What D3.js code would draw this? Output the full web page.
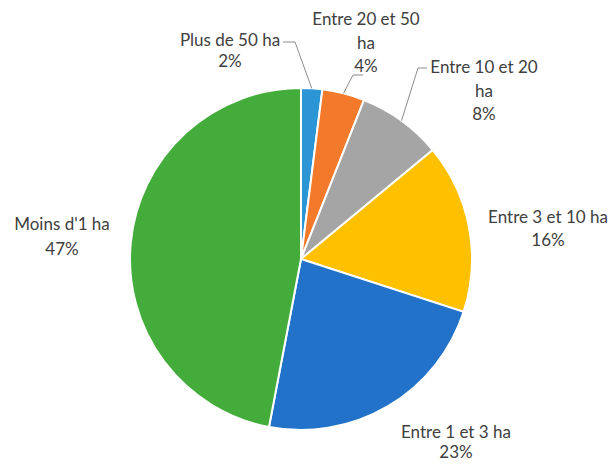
<!DOCTYPE html>
<html>
<head>
<meta charset="utf-8">
<script src="https://cdn.jsdelivr.net/npm/d3@7"></script>
<style>
  body { margin: 0; background: #fff; }
  text { font-family: Lato, "Open Sans", sans-serif; font-size: 17px; fill: #404040; }
</style>
</head>
<body>
<div id="chart"></div>
<script>
// Data
const categories = ["Plus de 50 ha", "Entre 20 et 50 ha", "Entre 10 et 20 ha", "Entre 3 et 10 ha", "Entre 1 et 3 ha", "Moins d'1 ha"];
const values = [2, 4, 8, 16, 23, 47];
const labelLines = [
  ["Plus de 50 ha"],
  ["Entre 20 et 50", "ha"],
  ["Entre 10 et 20", "ha"],
  ["Entre 3 et 10 ha"],
  ["Entre 1 et 3 ha"],
  ["Moins d'1 ha"]
];
const colors = ["#2B95D6", "#F47A2B", "#A5A5A5", "#FFC000", "#2172C8", "#43AC3B"];

const width = 615;
const height = 464;
const cx = 301, cy = 259, radius = 171;

// label layout: centre x, first line baseline y, line step, leader (from label side)
const labelPos = [
  {x: 230, y: 46, step: 21, leader: [283, 42, 295]},
  {x: 366, y: 25, step: 23.5, leader: [363, 75, 353]},
  {x: 484, y: 73, step: 23.5, leader: [427, 68, 418]},
  {x: 548, y: 223, step: 23},
  {x: 456, y: 438, step: 20},
  {x: 62, y: 230, step: 25}
];

const svg = d3.select("#chart")
  .append("svg")
  .attr("width", width)
  .attr("height", height);

const g = svg.append("g")
  .attr("transform", `translate(${cx},${cy})`);

const pie = d3.pie().sort(null).value(d => d);
const arcs = pie(values);

const arc = d3.arc().innerRadius(0).outerRadius(radius);

g.selectAll("path")
  .data(arcs)
  .enter()
  .append("path")
  .attr("d", arc)
  .attr("fill", (d, i) => colors[i])
  .attr("stroke", "#fff")
  .attr("stroke-width", 2);

// Leader lines for the small slices
const edge = d3.arc().innerRadius(radius).outerRadius(radius);
arcs.forEach((d, i) => {
  const lp = labelPos[i];
  if (!lp.leader) return;
  const [ex, ey] = edge.centroid(d);
  const [x1, y1, x2] = lp.leader;
  svg.append("polyline")
    .attr("points", `${x1},${y1} ${x2},${y1} ${ex + cx},${ey + cy}`)
    .attr("fill", "none")
    .attr("stroke", "#8c8c8c")
    .attr("stroke-width", 1);
});

// Labels
arcs.forEach((d, i) => {
  const lp = labelPos[i];
  const lines = labelLines[i].concat([values[i] + "%"]);
  const t = svg.append("text")
    .attr("text-anchor", "middle");
  lines.forEach((s, k) => {
    t.append("tspan")
      .attr("x", lp.x)
      .attr("y", lp.y + k * lp.step)
      .text(s);
  });
});
</script>
</body>
</html>
